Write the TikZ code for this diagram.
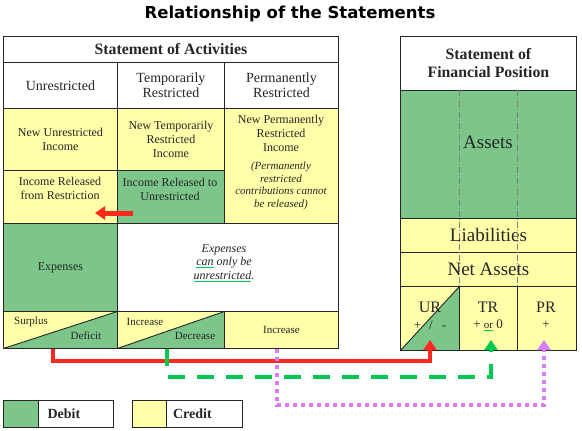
\documentclass[tikz,border=0pt]{standalone}
\usepackage{fontspec}
\setmainfont{Liberation Serif}
\newfontfamily\titlefont{DejaVu Sans}
\usetikzlibrary{arrows.meta}
\definecolor{debit}{RGB}{124,198,138}
\definecolor{credit}{RGB}{255,255,170}
\definecolor{urline}{RGB}{255,40,30}
\definecolor{trline}{RGB}{0,200,80}
\definecolor{prline}{RGB}{215,125,250}
\newcommand{\squig}[1]{\textcolor{trline}{\underline{\textcolor{black!85}{#1}}}}
\newcommand{\body}{\fontsize{12}{14}\selectfont}
\newcommand{\head}{\bfseries\fontsize{15.8}{18}\selectfont}
\tikzset{
  txt/.style={align=center, inner sep=1pt, text=black!85},
  cell/.style={txt, draw=black!85, line width=0.9pt, anchor=north west},
  split/.style={cell, fill=credit, path picture={
      \fill[debit] (path picture bounding box.south west) -- (path picture bounding box.south east)
        -- (path picture bounding box.north east) -- cycle;
      \draw[black!85, line width=0.9pt] (path picture bounding box.south west) -- (path picture bounding box.north east);}},
  flow/.style={line width=4pt, -{Triangle[width=13pt,length=10pt]}},
  guide/.style={gray, line width=0.8pt, dash pattern=on 6pt off 2pt on 1pt off 2pt}
}
\begin{document}
\begin{tikzpicture}[x=1pt, y=-1pt, font=\body]
\useasboundingbox[fill=white] (0,0) rectangle (582,431);
\node[text=black] (title) at (290,14) {\titlefont\bfseries\fontsize{16.5}{19}\selectfont Relationship of the Statements};

% statement of activities
\node[cell, minimum width=335, minimum height=26, font=\head] (soa) at (3,36) {Statement of Activities};
\node[cell, minimum width=114, minimum height=46, font=\fontsize{14}{15}\selectfont] (hur) at (3,62) {Unrestricted};
\node[cell, minimum width=107, minimum height=46, font=\fontsize{14}{15}\selectfont] (htr) at (117,62) {Temporarily\\Restricted};
\node[cell, minimum width=114, minimum height=46, font=\fontsize{14}{15}\selectfont] (hpr) at (224,62) {Permanently\\Restricted};
\node[cell, fill=credit, minimum width=114, minimum height=62] (nur) at (3,108) {New Unrestricted\\Income};
\node[cell, fill=credit, minimum width=107, minimum height=62] (ntr) at (117,108) {New Temporarily\\Restricted\\Income};
\node[cell, fill=credit, minimum width=114, minimum height=115] (npr) at (224,108) {};
\node[txt] (nprtext) at (281,133) {New Permanently\\Restricted\\Income};
\node[txt, font=\itshape\fontsize{11}{12.7}\selectfont] (nprnote) at (281,186) {(Permanently\\restricted\\contributions cannot\\be released)};
\node[cell, fill=credit, minimum width=114, minimum height=53] (rfr) at (3,170) {};
\node[txt] (rfrtext) at (60,188) {Income Released\\from Restriction};
\node[cell, fill=debit, minimum width=107, minimum height=53] (rtu) at (117,170) {};
\node[txt] (rtutext) at (170,189) {Income Released to\\Unrestricted};
\node[cell, fill=debit, minimum width=114, minimum height=88] (exp) at (3,223) {Expenses};
\node[cell, minimum width=221, minimum height=88] (expnote) at (117,223) {};
\node[txt, font=\itshape\fontsize{12}{13.7}\selectfont] (expnotetext) at (224,263) {Expenses\\\squig{can} only be\\\squig{unrestricted}.};
\node[split, minimum width=114, minimum height=37] (sd) at (3,311) {};
\node[split, minimum width=107, minimum height=37] (id) at (117,311) {};
\node[cell, fill=credit, minimum width=114, minimum height=37, font=\fontsize{11}{13}\selectfont] (inc) at (224,311) {Increase};
\node[txt, font=\fontsize{11}{13}\selectfont] (surplus) at (31,322) {Surplus};
\node[txt, font=\fontsize{11}{13}\selectfont] (deficit) at (86,336) {Deficit};
\node[txt, font=\fontsize{11}{13}\selectfont] (tinc) at (145,322) {Increase};
\node[txt, font=\fontsize{11}{13}\selectfont] (tdec) at (195,336) {Decrease};

% statement of financial position
\node[cell, minimum width=176, minimum height=54, font=\head] (sfp) at (400,36) {Statement of\\Financial Position};
\node[cell, fill=debit, minimum width=176, minimum height=128] (assets) at (400,90) {};
\node[txt, font=\fontsize{19}{22}\selectfont] (assetstext) at (488,142) {Assets};
\node[cell, fill=credit, minimum width=176, minimum height=34, font=\fontsize{19}{22}\selectfont] (liab) at (400,218) {Liabilities};
\node[cell, fill=credit, minimum width=176, minimum height=34, font=\fontsize{19}{22}\selectfont] (net) at (400,252) {Net Assets};
\draw[guide] (459,90) -- (459,286);
\draw[guide] (517,90) -- (517,286);
\node[split, minimum width=59, minimum height=64] (ur) at (400,286) {};
\node[cell, fill=credit, minimum width=58, minimum height=64] (tr) at (459,286) {};
\node[cell, fill=credit, minimum width=59, minimum height=64] (pr) at (517,286) {};
\node[txt, font=\fontsize{16}{18}\selectfont] (urtext) at (430,307) {UR};
\node[txt, font=\fontsize{13}{15}\selectfont] (ursign) at (430,325) {+\hspace{8pt}/\hspace{9pt}-};
\node[txt, font=\fontsize{16}{18}\selectfont] (trtext) at (488,307) {TR};
\node[txt, font=\fontsize{13}{15}\selectfont] (trsign) at (488,325) {+ {\fontsize{11}{12}\selectfont\squig{or}} 0};
\node[txt, font=\fontsize{16}{18}\selectfont] (prtext) at (546,307) {PR};
\node[txt, font=\fontsize{13}{15}\selectfont] (prsign) at (546,325) {+};

% flows
\coordinate (relfrom) at (133,213);
\coordinate (relto) at (95,213);
\draw[flow, urline, line width=5pt] (relfrom) -- (relto);
\coordinate (urfrom) at (53,349);
\coordinate (urto) at (430,340);
\coordinate (trfrom) at (167,349);
\coordinate (trto) at (491,340);
\coordinate (prfrom) at (277,349);
\coordinate (prto) at (544,340);
\draw[flow, urline] (urfrom) -- ++(0,12) -| (urto);
\draw[flow, trline, dash pattern=on 17pt off 12pt] (trfrom) -- ++(0,28) -| (trto);
\draw[flow, prline, dash pattern=on 4pt off 4pt] (prfrom) -- ++(0,56) -| (prto);

% legend
\node[cell, fill=debit, minimum width=35, minimum height=27] (debitkey) at (3,400) {};
\node[cell, minimum width=75, minimum height=27, font=\bfseries\fontsize{14}{15}\selectfont] (debitlabel) at (38,400) {\hspace{-24pt}Debit};
\node[cell, fill=credit, minimum width=34, minimum height=27] (creditkey) at (132,400) {};
\node[cell, minimum width=76, minimum height=27, font=\bfseries\fontsize{14}{15}\selectfont] (creditlabel) at (166,400) {\hspace{-24pt}Credit};
\end{tikzpicture}
\end{document}
